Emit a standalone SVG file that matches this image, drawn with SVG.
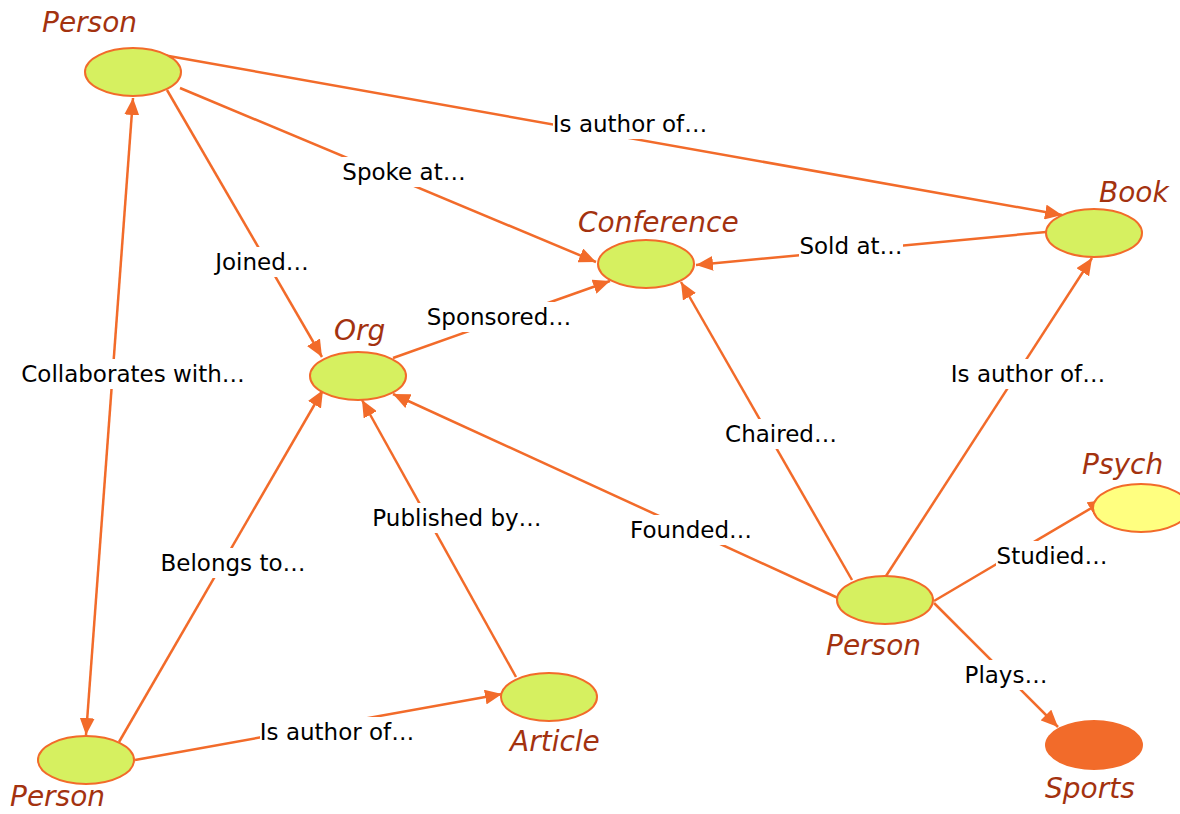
<svg xmlns="http://www.w3.org/2000/svg" width="1180" height="814" viewBox="0 0 1180 814">
<style>
.node{fill:#d6f060;stroke:#f26b2a;stroke-width:2}
.nlabel{font-family:"DejaVu Sans",sans-serif;font-style:italic;font-size:28px;fill:#a3320f}
.edge{stroke:#f26b2a;stroke-width:2.5;fill:none;marker-end:url(#arr)}
.elabel{font-family:"DejaVu Sans",sans-serif;font-size:23px;fill:#000;text-anchor:middle}
.lbg{fill:#fff}
</style>
<defs>
<marker id="arr" markerUnits="userSpaceOnUse" markerWidth="17" markerHeight="15" refX="17" refY="7.5" orient="auto-start-reverse" viewBox="0 0 17 15">
<path d="M0,0 L17,7.5 L0,15 z" fill="#f26b2a"/>
</marker>
</defs>
<rect width="1180" height="814" fill="#fff"/>
<g id="connectors">
<line class="edge" x1="163" y1="55" x2="1062" y2="215"/>
<line class="edge" x1="180" y1="88" x2="596" y2="262"/>
<line class="edge" x1="167" y1="90" x2="322" y2="357"/>
<line class="edge" x1="86" y1="735" x2="133" y2="98" style="marker-start:url(#arr)"/>
<line class="edge" x1="1046" y1="232" x2="696" y2="265"/>
<line class="edge" x1="393" y1="358" x2="610" y2="281"/>
<line class="edge" x1="852" y1="580" x2="681" y2="282"/>
<line class="edge" x1="886" y1="576" x2="1092" y2="258"/>
<line class="edge" x1="838" y1="598" x2="393" y2="394"/>
<line class="edge" x1="934" y1="601" x2="1105" y2="500"/>
<line class="edge" x1="934" y1="603" x2="1058" y2="727"/>
<line class="edge" x1="516" y1="677" x2="362" y2="400"/>
<line class="edge" x1="119" y1="742" x2="323" y2="390"/>
<line class="edge" x1="135" y1="760" x2="502" y2="694"/>
<g id="edge-labels">
<rect class="lbg" x="553" y="109" width="154" height="30"/><text class="elabel" x="630" y="132">Is author of…</text>
<rect class="lbg" x="342" y="157" width="124" height="30"/><text class="elabel" x="404" y="180">Spoke at…</text>
<rect class="lbg" x="215" y="247" width="94" height="30"/><text class="elabel" x="262" y="270">Joined…</text>
<rect class="lbg" x="21" y="359" width="224" height="30"/><text class="elabel" x="133" y="382">Collaborates with…</text>
<rect class="lbg" x="799" y="231" width="104" height="30"/><text class="elabel" x="851" y="254">Sold at…</text>
<rect class="lbg" x="426" y="302" width="146" height="30"/><text class="elabel" x="499" y="325">Sponsored…</text>
<rect class="lbg" x="725" y="419" width="112" height="30"/><text class="elabel" x="781" y="442">Chaired…</text>
<rect class="lbg" x="951" y="359" width="154" height="30"/><text class="elabel" x="1028" y="382">Is author of…</text>
<rect class="lbg" x="629" y="515" width="124" height="30"/><text class="elabel" x="691" y="538">Founded…</text>
<rect class="lbg" x="996" y="541" width="112" height="30"/><text class="elabel" x="1052" y="564">Studied…</text>
<rect class="lbg" x="964" y="660" width="84" height="30"/><text class="elabel" x="1006" y="683">Plays…</text>
<rect class="lbg" x="372" y="503" width="170" height="30"/><text class="elabel" x="457" y="526">Published by…</text>
<rect class="lbg" x="160" y="548" width="146" height="30"/><text class="elabel" x="233" y="571">Belongs to…</text>
<rect class="lbg" x="260" y="717" width="154" height="30"/><text class="elabel" x="337" y="740">Is author of…</text>
</g>
</g>
<g id="person-top"><ellipse class="node" cx="133" cy="72" rx="48" ry="24"/><text class="nlabel" x="42" y="32">Person</text></g>
<g id="conference"><ellipse class="node" cx="646" cy="264" rx="48" ry="24"/><text class="nlabel" x="578" y="232">Conference</text></g>
<g id="book"><ellipse class="node" cx="1094" cy="233" rx="48" ry="24"/><text class="nlabel" x="1099" y="202">Book</text></g>
<g id="org"><ellipse class="node" cx="358" cy="376" rx="48" ry="24"/><text class="nlabel" x="334" y="340">Org</text></g>
<g id="psych"><ellipse cx="1141" cy="508" rx="48" ry="24" fill="#ffff80" stroke="#f26b2a" stroke-width="2"/><text class="nlabel" x="1082" y="474">Psych</text></g>
<g id="person-right"><ellipse class="node" cx="885" cy="600" rx="48" ry="24"/><text class="nlabel" x="826" y="655">Person</text></g>
<g id="article"><ellipse class="node" cx="549" cy="697" rx="48" ry="24"/><text class="nlabel" x="510" y="751">Article</text></g>
<g id="sports"><ellipse cx="1094" cy="745" rx="49" ry="25" fill="#f26b2a"/><text class="nlabel" x="1045" y="798">Sports</text></g>
<g id="person-bottom"><ellipse class="node" cx="86" cy="760" rx="48" ry="24"/><text class="nlabel" x="10" y="806">Person</text></g>
</svg>
